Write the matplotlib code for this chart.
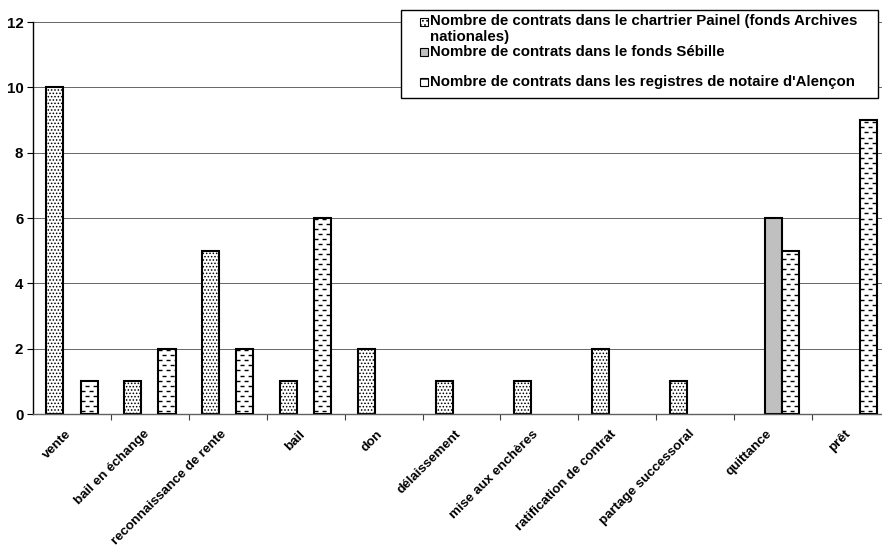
import numpy as np
import matplotlib
matplotlib.use("Agg")
import matplotlib.pyplot as plt
import matplotlib.transforms as mtransforms
from matplotlib.patches import Rectangle

# contract types and counts per archive
categories = ['vente', 'bail en échange', 'reconnaissance de rente', 'bail', 'don',
              'délaissement', 'mise aux enchères', 'ratification de contrat',
              'partage successoral', 'quittance', 'prêt']
painel = [10, 1, 5, 1, 2, 1, 1, 2, 1, 0, 0]
sebille = [0, 0, 0, 0, 0, 0, 0, 0, 0, 6, 0]
notaire = [1, 2, 2, 6, 0, 0, 0, 0, 0, 5, 9]
yticks = [0, 2, 4, 6, 8, 10, 12]

legend_labels = ['Nombre de contrats dans le chartrier Painel (fonds Archives\nnationales)',
                 'Nombre de contrats dans le fonds Sébille',
                 "Nombre de contrats dans les registres de notaire d'Alençon"]

plt.rcParams['font.family'] = ['Liberation Sans', 'DejaVu Sans']
plt.rcParams['font.weight'] = 'bold'
plt.rcParams['hatch.linewidth'] = 0.7
plt.rcParams['lines.scale_dashes'] = False

FS = 10.8
W, H = 882, 550
fig = plt.figure(figsize=(W / 100, H / 100), dpi=100)

def fx(px):
    return px / W

def fy(py):
    return 1 - py / H

ax = fig.add_axes([fx(33), fy(414), fx(890 - 33), (414 - 22) / H])

x = np.arange(len(categories))
bw = 0.22

def nz(vals):
    vals = np.asarray(vals, dtype=float)
    m = vals > 0
    return m, vals[m]

m, v = nz(painel)
ax.bar(x[m] - bw, v, bw, color='white', edgecolor='black', hatch='.....',
       linewidth=1.5, zorder=2)

m, v = nz(sebille)
ax.bar(x[m], v, bw, color='#c0c0c0', edgecolor='black', linewidth=1.5, zorder=2)

# notary bars: white fill with staggered horizontal dashes, outline on top
m, v = nz(notaire)
fills = ax.bar(x[m] + bw, v, bw, color='white', edgecolor='none', zorder=2)
step = 0.155
for b in fills:
    x0, w, h = b.get_x(), b.get_width(), b.get_height()
    for k, yy in enumerate(np.arange(step * 0.6, h, step)):
        off = 0 if k % 2 == 0 else 2.9
        ln, = ax.plot([x0, x0 + w], [yy, yy], color='black', lw=1.0,
                      linestyle=(off, (2.9, 2.9)), solid_capstyle='butt',
                      dash_capstyle='butt', zorder=2.5)
        ln.set_clip_path(b)
ax.bar(x[m] + bw, v, bw, fill=False, edgecolor='black', linewidth=1.5, zorder=3)

ax.set_xlim(-0.5, len(categories) - 0.5)
ax.set_ylim(0, 12)
ax.set_yticks(yticks)
ax.set_yticklabels([str(t) for t in yticks], fontsize=FS, fontweight='bold')
ax.yaxis.grid(True, color='#666666', linewidth=0.7)
ax.set_axisbelow(True)

ax.set_xticks(x)
ax.set_xticklabels(categories, rotation=45, ha='right', va='top',
                   rotation_mode='anchor', fontsize=9.6, fontweight='bold')
ax.set_xticks(np.arange(0.5, len(categories) - 1, 1.0), minor=True)
ax.tick_params(axis='x', which='major', length=0, pad=10)
ax.tick_params(axis='x', which='minor', length=4, width=0.8, color='#404040')
ax.tick_params(axis='y', length=4, width=0.8, pad=3)

shift = mtransforms.ScaledTranslation(-7 / 100, 0, fig.dpi_scale_trans)
for lab in ax.xaxis.get_majorticklabels():
    lab.set_transform(lab.get_transform() + shift)

for s in ['top', 'right']:
    ax.spines[s].set_visible(False)
ax.spines['left'].set_color('black')
ax.spines['left'].set_linewidth(1.0)
ax.spines['bottom'].set_color('#606060')
ax.spines['bottom'].set_linewidth(1.0)

# legend box
fig.add_artist(Rectangle((fx(401), fy(98)), fx(878 - 401), (98 - 10) / H,
                         transform=fig.transFigure, facecolor='white',
                         edgecolor='black', linewidth=1.0, zorder=5))
hs = 8
handles = [dict(facecolor='white', hatch='....'),
           dict(facecolor='#c0c0c0'),
           dict(facecolor='white', hatch='--')]
rows = [21.5, 51.5, 82]
for lab, st, yc in zip(legend_labels, handles, rows):
    fig.add_artist(Rectangle((fx(420), fy(yc + hs / 2)), fx(hs), hs / H,
                             transform=fig.transFigure, edgecolor='black',
                             linewidth=0.8, zorder=6, **st))
    lines = lab.split('\n')
    for j, t in enumerate(lines):
        fig.text(fx(430), fy(yc + j * 15), t, fontsize=FS, fontweight='bold',
                 va='center', ha='left', zorder=7)

fig.savefig('out.png', dpi=100)
